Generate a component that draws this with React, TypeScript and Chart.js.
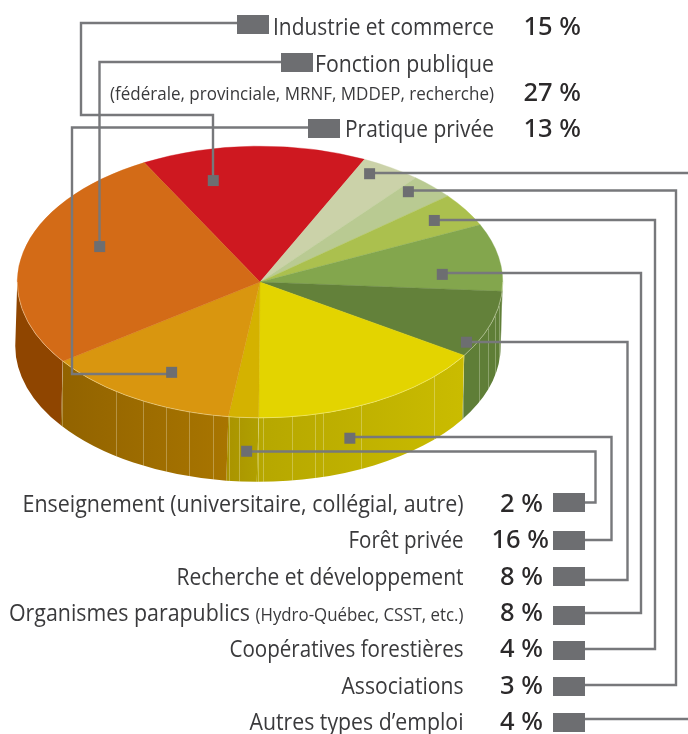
import React, { useEffect, useRef } from "react";
import { Chart, registerables } from "chart.js";

Chart.register(...registerables);

// ---- data, clockwise from the first slice ----
const categories = [
  "Industrie et commerce",
  "Autres types d’emploi",
  "Associations",
  "Coopératives forestières",
  "Organismes parapublics",
  "Recherche et développement",
  "Forêt privée",
  "Enseignement (universitaire, collégial, autre)",
  "Pratique privée",
  "Fonction publique",
];
const shares = [15, 4, 3, 4, 8, 8, 16, 2, 13, 27];
const topColors = ["#CE1820", "#CBD2A9", "#B9CA92", "#ABC04E", "#83A64D", "#63813A", "#E3D400", "#D4B200", "#D9960F", "#D36B17"];
const wallStart = ["#CE1820", "#CBD2A9", "#B9CA92", "#ABC04E", "#63813A", "#5F7E37", "#CABC00", "#B0A000", "#A87500", "#8F4500"];
const wallEnd = ["#CE1820", "#CBD2A9", "#B9CA92", "#ABC04E", "#63813A", "#5F7E37", "#B6A700", "#AA9400", "#926300", "#8F4500"];

// ---- layout ----
const ROTATION = -28.5;
const SQUASH = 136 / 243;
const DEPTH = 64;
const SHIFT = -2;
const seamX = [62, 116, 143, 166, 189, 213, 229, 239, 258, 263, 292, 315, 323, 361, 434, 463, 479, 488, 495, 499];

// where each slice's callout marker sits: share of the slice's sweep, share of the radius
const anchorSweep = [0.26, 0.28, 0.25, 0.49, 0.716, 0.82, 0.685, 0.31, 0.453, 0.589];
const anchorRadius = [0.771, 0.916, 0.903, 0.849, 0.753, 0.959, 1.208, 1.247, 0.758, 0.71];
// elbow points of each callout, from its legend box towards the marker
const routes: number[][][] = [
  [[237, 23], [81, 23], [81, 115], [213, 115]],
  [[688, 173]],
  [[585, 685], [676, 685], [676, 190.5]],
  [[585, 649], [655, 649], [655, 220]],
  [[585, 613], [641, 613], [641, 273]],
  [[585, 580], [627.5, 580], [627.5, 342]],
  [[585, 540], [611.5, 540], [611.5, 437]],
  [[585, 502.5], [595.5, 502.5], [595.5, 451.5]],
  [[308, 127.5], [72, 127.5], [72, 374]],
  [[281, 62], [99.5, 62]],
];
const boxes = [
  [237, 15], [281, 53], [308, 119],
  [553, 493], [553, 531], [553, 567], [553, 606], [553, 641], [553, 677], [553, 713],
];

const TEXT_FONT = "'Open Sans'";
const PCT_FONT = "'Noto Sans'";
// text, baseline, font size, drawn width
const upperRows: [string, number, number, number][] = [
  ["Industrie et commerce", 35, 23, 221],
  ["Fonction publique", 72, 23, 179],
  ["(fédérale, provinciale, MRNF, MDDEP, recherche)", 100, 18, 384],
  ["Pratique privée", 137, 23, 149],
];
const upperPct: [string, number][] = [["15 %", 35], ["27 %", 101], ["13 %", 137]];
const lowerRows: [string, number, number, number][] = [
  ["Enseignement (universitaire, collégial, autre)", 512, 23, 441],
  ["Forêt privée", 548, 23, 115],
  ["Recherche et développement", 585, 23, 287],
  ["(Hydro-Québec, CSST, etc.)", 621, 18, 208],
  ["Coopératives forestières", 657, 23, 234],
  ["Associations", 694, 23, 122],
  ["Autres types d’emploi", 730, 23, 214],
];
const orgLabel: [string, number, number, number, number] = ["Organismes parapublics", 250, 621, 23, 241];
const lowerPct: [string, number, number][] = [
  ["2 %", 512, 543], ["16 %", 548, 549], ["8 %", 585, 543], ["8 %", 621, 543],
  ["4 %", 657, 543], ["3 %", 694, 543], ["4 %", 730, 543],
];

const pie3d = {
  id: "pie3d",
  beforeDatasetsDraw(chart: any) {
    const { ctx } = chart;
    const arcs = chart.getDatasetMeta(0).data;
    const { x: cx, y: cy, outerRadius: R } = arcs[0];
    const ry = R * SQUASH;
    ctx.save();
    arcs.forEach((arc: any, i: number) => {
      const a = Math.max(arc.startAngle, 0);
      const b = Math.min(arc.endAngle, Math.PI);
      if (b <= a) return;
      const g = ctx.createLinearGradient(cx + R * Math.cos(b), 0, cx + R * Math.cos(a), 0);
      g.addColorStop(0, wallEnd[i]);
      g.addColorStop(1, wallStart[i]);
      ctx.beginPath();
      ctx.ellipse(cx, cy, R, ry, 0, a, b);
      ctx.ellipse(cx + SHIFT, cy + DEPTH, R, ry, 0, b, a, true);
      ctx.closePath();
      ctx.fillStyle = g;
      ctx.fill();
    });
    // pale vertical seams on the rim
    ctx.strokeStyle = "rgba(255,255,240,0.28)";
    ctx.lineWidth = 1;
    seamX.forEach((x) => {
      const t = (x - cx) / R;
      const yTop = cy + ry * Math.sqrt(Math.max(0, 1 - t * t));
      const yBot = cy + DEPTH + ry * Math.sqrt(Math.max(0, 1 - ((x - cx - SHIFT) / R) ** 2));
      ctx.beginPath();
      ctx.moveTo(x + 0.5, yTop);
      ctx.lineTo(x + 0.5, yBot);
      ctx.stroke();
    });
    ctx.restore();
    ctx.save();
    ctx.translate(0, cy);
    ctx.scale(1, SQUASH);
    ctx.translate(0, -cy);
  },
  afterDatasetsDraw(chart: any) {
    const { ctx } = chart;
    ctx.restore();
    const arcs = chart.getDatasetMeta(0).data;
    const { x: cx, y: cy, outerRadius: R } = arcs[0];
    ctx.save();
    ctx.strokeStyle = "rgba(255,255,230,0.45)";
    ctx.lineWidth = 0.8;
    ctx.beginPath();
    ctx.ellipse(cx, cy, R, R * SQUASH, 0, 0, Math.PI);
    ctx.stroke();
    ctx.restore();
  },
  afterDraw(chart: any) {
    const { ctx } = chart;
    const arcs = chart.getDatasetMeta(0).data;
    ctx.save();
    // callout lines and markers
    ctx.strokeStyle = "#77787B";
    ctx.lineWidth = 2.4;
    ctx.lineJoin = "miter";
    arcs.forEach((arc: any, i: number) => {
      const ang = arc.startAngle + anchorSweep[i] * (arc.endAngle - arc.startAngle);
      const r = arc.outerRadius * anchorRadius[i];
      const mx = arc.x + r * Math.cos(ang);
      const my = arc.y + r * Math.sin(ang) * SQUASH;
      const route = routes[i];
      ctx.beginPath();
      route.forEach((p, j) => (j ? ctx.lineTo(p[0], p[1]) : ctx.moveTo(p[0], p[1])));
      const last = route[route.length - 1];
      const prev = route[route.length - 2];
      if (prev && prev[1] === last[1]) ctx.lineTo(last[0], my);
      else ctx.lineTo(mx, last[1]);
      ctx.stroke();
      ctx.fillStyle = "#6D6E71";
      ctx.fillRect(mx - 5.5, my - 5.5, 11, 11);
    });
    ctx.beginPath();
    ctx.moveTo(585, 719);
    ctx.lineTo(688, 719);
    ctx.stroke();
    ctx.fillStyle = "#6D6E71";
    boxes.forEach(([x, y]) => ctx.fillRect(x, y, 32, 19));

    // labels
    ctx.textAlign = "right";
    ctx.textBaseline = "alphabetic";
    ctx.fillStyle = "#3A3A3C";
    upperRows.forEach(([t, y, s, w]) => {
      ctx.font = `${s}px ${TEXT_FONT}`;
      ctx.fillText(t, 494, y, w);
    });
    lowerRows.forEach(([t, y, s, w]) => {
      ctx.font = `${s}px ${TEXT_FONT}`;
      ctx.fillText(t, 463.5, y, w);
    });
    ctx.font = `${orgLabel[3]}px ${TEXT_FONT}`;
    ctx.fillText(orgLabel[0], orgLabel[1], orgLabel[2], orgLabel[4]);
    ctx.fillStyle = "#2B292A";
    ctx.font = `500 25.5px ${PCT_FONT}`;
    upperPct.forEach(([t, y]) => ctx.fillText(t, 581, y));
    lowerPct.forEach(([t, y, x]) => ctx.fillText(t, x, y));
    ctx.restore();
  },
};

export default function App() {
  const ref = useRef<HTMLCanvasElement>(null);
  useEffect(() => {
    const chart = new Chart(ref.current as HTMLCanvasElement, {
      type: "pie",
      data: {
        labels: categories,
        datasets: [
          {
            data: shares,
            backgroundColor: topColors,
            borderColor: topColors,
            borderWidth: 0.5,
            clip: false,
          } as any,
        ],
      },
      options: {
        animation: false,
        responsive: false,
        events: [],
        rotation: ROTATION,
        layout: { padding: { left: 17, right: 185, top: 39, bottom: 209 } },
        plugins: { legend: { display: false }, tooltip: { enabled: false } },
      },
      plugins: [pie3d],
    });
    return () => chart.destroy();
  }, []);
  return (
    <div style={{ position: "absolute", left: 0, top: 0, width: 688, height: 734, overflow: "hidden", background: "#fff" }}>
      <canvas ref={ref} width={688} height={734} style={{ display: "block" }} />
    </div>
  );
}
